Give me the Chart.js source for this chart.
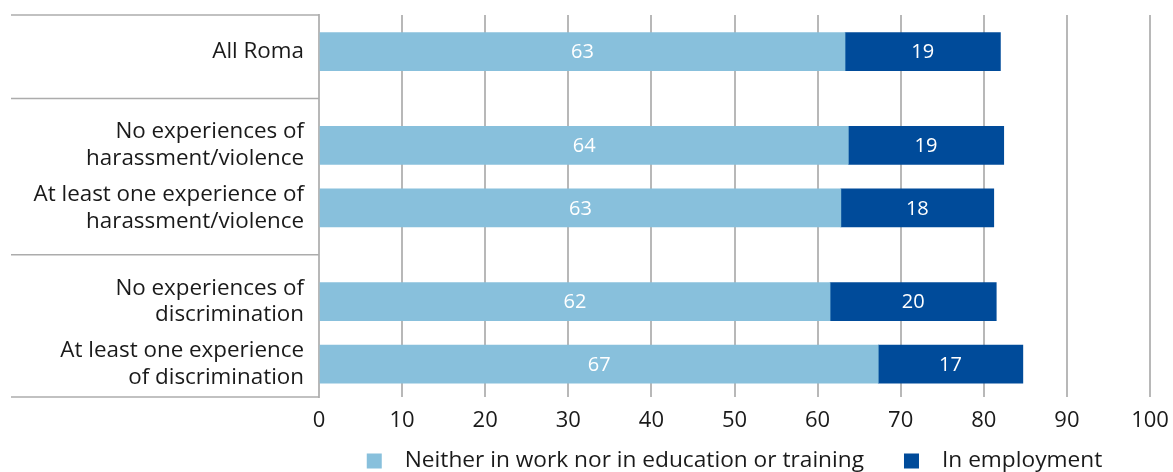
<!DOCTYPE html>
<html>
<head>
<meta charset="utf-8">
<script src="https://cdn.jsdelivr.net/npm/chart.js@4.4.1/dist/chart.umd.min.js"></script>
<style>
  body { margin: 0; background: #fff; }
  #grafico { display: block; }
</style>
</head>
<body>
<canvas id="grafico" width="1173" height="472"></canvas>
<script>
// categorias por grupo (cada etiqueta ya partida en lineas)
const grupos = [
    [["All Roma"]],
    [["No experiences of", "harassment/violence"], ["At least one experience of", "harassment/violence"]],
    [["No experiences of", "discrimination"], ["At least one experience", "of discrimination"]]
];
const series = ["Neither in work nor in education or training", "In employment"];
const ninis = [63.3, 63.7, 62.8, 61.5, 67.3];
const empleo = [18.7, 18.7, 18.4, 20.0, 17.4];
const ticksX = [0, 10, 20, 30, 40, 50, 60, 70, 80, 90, 100];

const colores = ["#88c0dc", "#004b9a"];
const fuente = "'Open Sans'";

// filas: dos huecos dentro de un grupo, tres entre grupos
const filas = [];
const separadores = [];
let pos = -3;
grupos.forEach((grupo, g) => {
    pos += 3;
    if (g > 0) separadores.push(pos - 1.5);
    grupo.forEach((etiqueta, i) => {
        if (i > 0) pos += 2;
        filas.push({ etiqueta, pos });
    });
});

const lineasGrupo = {
    id: "lineasGrupo",
    afterDraw(chart) {
        const { ctx, chartArea, scales: { y } } = chart;
        const lineas = [chartArea.top, ...separadores.map(s => y.getPixelForValue(s)), chartArea.bottom];
        ctx.save();
        ctx.strokeStyle = "#acacac";
        ctx.lineWidth = 1.5;
        lineas.forEach(p => {
            ctx.beginPath();
            ctx.moveTo(11, p);
            ctx.lineTo(chartArea.left, p);
            ctx.stroke();
        });
        ctx.restore();
    }
};

const etiquetasBarras = {
    id: "etiquetasBarras",
    afterDatasetsDraw(chart) {
        const { ctx } = chart;
        ctx.save();
        ctx.font = `20px ${fuente}`;
        ctx.fillStyle = "#ffffff";
        ctx.textAlign = "center";
        ctx.textBaseline = "middle";
        chart.data.datasets.forEach((d, i) => {
            chart.getDatasetMeta(i).data.forEach((barra, j) => {
                const c = barra.getCenterPoint();
                ctx.fillText(Math.round(d.data[j].x), c.x, c.y + 1);
            });
        });
        ctx.restore();
    }
};

const leyenda = {
    id: "leyenda",
    afterDraw(chart) {
        const { ctx, chartArea } = chart;
        const caja = 15, hueco = 23, entre = 40, yc = 461;
        ctx.save();
        ctx.font = `22.7px ${fuente}`;
        ctx.textBaseline = "middle";
        const items = chart.data.datasets.map(d => ({
            texto: d.label,
            color: d.backgroundColor,
            ancho: caja + hueco + ctx.measureText(d.label).width
        }));
        const total = items.reduce((s, it) => s + it.ancho, 0) + entre * (items.length - 1);
        let x = (chartArea.left + chartArea.right) / 2 - total / 2;
        items.forEach(it => {
            ctx.fillStyle = it.color;
            ctx.fillRect(x, yc - caja / 2, caja, caja);
            ctx.fillStyle = "#1a1a1a";
            ctx.fillText(it.texto, x + caja + hueco, yc);
            x += it.ancho + entre;
        });
        ctx.restore();
    }
};

new Chart(document.getElementById("grafico"), {
    type: "bar",
    data: {
        datasets: [
            {
                label: series[0],
                data: ninis.map((v, i) => ({ x: v, y: filas[i].pos })),
                backgroundColor: colores[0]
            },
            {
                label: series[1],
                data: empleo.map((v, i) => ({ x: v, y: filas[i].pos })),
                backgroundColor: colores[1]
            }
        ]
    },
    options: {
        indexAxis: "y",
        responsive: false,
        animation: false,
        barThickness: 38,
        layout: { padding: { top: 15, right: 23, left: 0, bottom: 0 } },
        plugins: {
            legend: { display: false },
            tooltip: { enabled: false }
        },
        scales: {
            x: {
                stacked: true,
                min: 0,
                max: 100,
                afterBuildTicks: (escala) => { escala.ticks = ticksX.map(v => ({ value: v })); },
                afterFit: (escala) => {
                    escala.height = 75;
                    escala.paddingLeft = 0;
                    escala.paddingRight = 0;
                },
                grid: { color: "#b8b8b8", lineWidth: 2, drawTicks: false },
                border: { display: false },
                ticks: {
                    padding: 11,
                    color: "#1a1a1a",
                    font: { family: fuente, size: 22 }
                }
            },
            y: {
                type: "linear",
                stacked: true,
                reverse: true,
                offset: false,
                min: -1.17,
                max: 11.05,
                afterBuildTicks: (escala) => { escala.ticks = filas.map(f => ({ value: f.pos })); },
                afterFit: (escala) => {
                    escala.width = 319;
                    escala.paddingTop = 0;
                    escala.paddingBottom = 0;
                },
                grid: { display: false, drawTicks: false },
                border: { display: true, color: "#b8b8b8", width: 2 },
                ticks: {
                    autoSkip: false,
                    padding: 15,
                    color: "#1a1a1a",
                    font: { family: fuente, size: 22.4, lineHeight: 1.2 },
                    callback: (valor) => {
                        const fila = filas.find(f => f.pos === valor);
                        return fila ? fila.etiqueta : "";
                    }
                }
            }
        }
    },
    plugins: [lineasGrupo, etiquetasBarras, leyenda]
});
</script>
</body>
</html>
